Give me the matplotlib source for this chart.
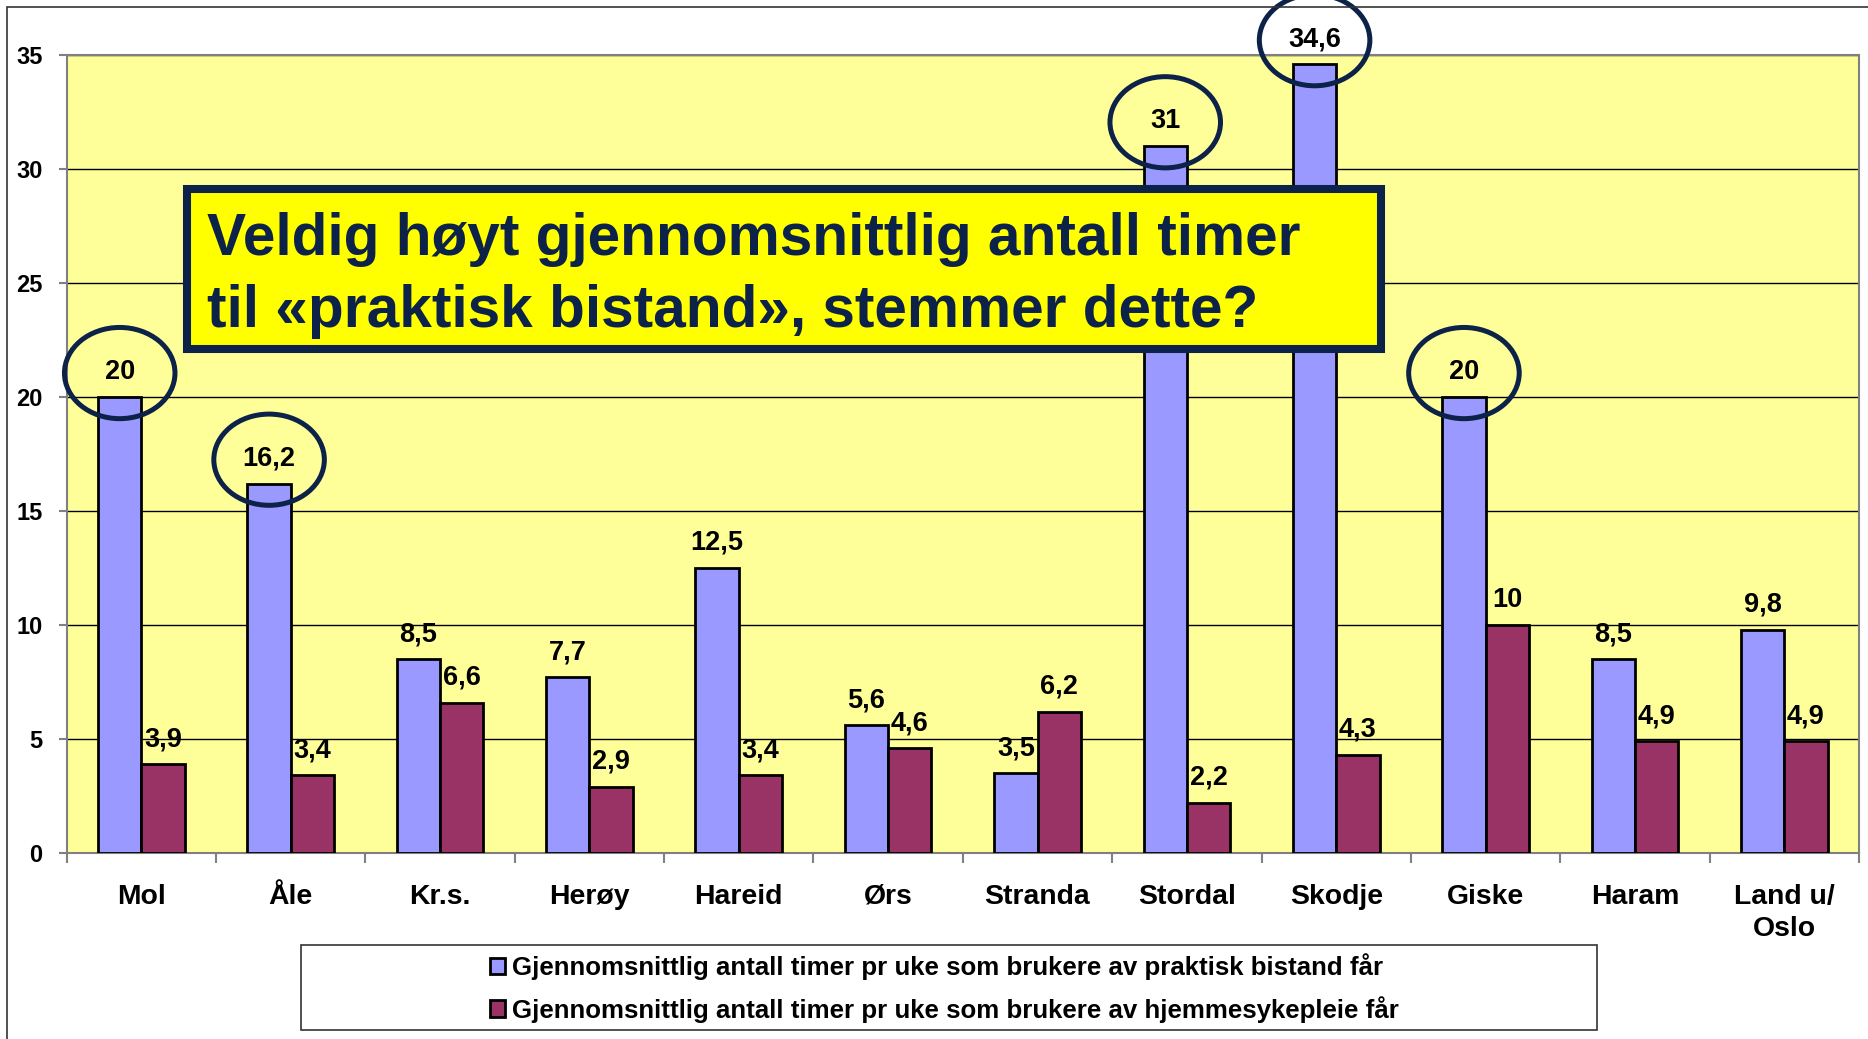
"""
Timer pr uke: praktisk bistand mot hjemmesykepleie, per kommune.
Lagrer stolpediagrammet som out.png.
"""

import matplotlib
matplotlib.use("Agg")  # ingen skjerm, bare fil
import matplotlib.pyplot as plt
from matplotlib import font_manager
from matplotlib.patches import Ellipse, Rectangle

kommuner = ["Mol", "Åle", "Kr.s.", "Herøy", "Hareid", "Ørs", "Stranda",
            "Stordal", "Skodje", "Giske", "Haram", "Land u/\nOslo"]
praktisk_bistand = [20, 16.2, 8.5, 7.7, 12.5, 5.6, 3.5, 31, 34.6, 20, 8.5, 9.8]
hjemmesykepleie = [3.9, 3.4, 6.6, 2.9, 3.4, 4.6, 6.2, 2.2, 4.3, 10, 4.9, 4.9]
markerte = ["Mol", "Åle", "Stordal", "Skodje", "Giske"]
y_ticks = [0, 5, 10, 15, 20, 25, 30, 35]

serie_navn = [
    "Gjennomsnittlig antall timer pr uke som brukere av praktisk bistand får",
    "Gjennomsnittlig antall timer pr uke som brukere av hjemmesykepleie får",
]
boks_linjer = [
    "Veldig høyt gjennomsnittlig antall timer",
    "til «praktisk bistand», stemmer dette?",
]

BLA = "#9999FF"
LILLA = "#993366"
BAKGRUNN = "#FFFF99"
MARINE = "#0C2249"
GRA = "#808080"

W, H = 1868, 1039

installerte = {f.name for f in font_manager.fontManager.ttflist}
SMAL = "Liberation Sans Narrow" if "Liberation Sans Narrow" in installerte else "Liberation Sans"
BRED = "Liberation Sans"
# vanlig bredde er bredere enn narrow, saa krymp litt hvis narrow mangler
k = 1.0 if SMAL == "Liberation Sans Narrow" else 0.93


def fx(px):
    return px / W


def fy(py):
    return 1 - py / H


def tall(v):
    return f"{v:g}".replace(".", ",")


fig = plt.figure(figsize=(W / 100, H / 100), dpi=100)
fig.patch.set_facecolor("white")

# ramme rundt hele diagramomraadet (bare venstre og topp synes)
fig.add_artist(Rectangle((fx(7), fy(1200)), 3000 / W, (1200 - 7) / H,
                         transform=fig.transFigure, fill=False,
                         edgecolor="#333333", linewidth=1.2))

ax = fig.add_axes([fx(66.7), fy(853), (1859 - 66.7) / W, (853 - 55) / H])
ax.set_facecolor(BAKGRUNN)

x = list(range(len(kommuner)))
bredde = 0.29
x_bla = [i - bredde / 2 for i in x]
x_lilla = [i + bredde / 2 for i in x]

ax.bar(x_bla, praktisk_bistand, width=bredde, color=BLA,
       edgecolor="black", linewidth=2, zorder=3, label=serie_navn[0])
ax.bar(x_lilla, hjemmesykepleie, width=bredde, color=LILLA,
       edgecolor="black", linewidth=2, zorder=3, label=serie_navn[1])

for xs, verdier in [(x_bla, praktisk_bistand), (x_lilla, hjemmesykepleie)]:
    for xi, v in zip(xs, verdier):
        ax.annotate(tall(v), (xi, v), xytext=(0, 13), textcoords="offset points",
                    ha="center", va="baseline", fontsize=21 * k, fontweight="bold",
                    family=SMAL, annotation_clip=False, zorder=5)

# ringer rundt de hoeyeste verdiene
for navn in markerte:
    i = kommuner.index(navn)
    ax.add_patch(Ellipse((x_bla[i], praktisk_bistand[i] + 1.05), 0.74, 4.0,
                         fill=False, edgecolor=MARINE, linewidth=3.6,
                         clip_on=False, zorder=6))

ax.set_xlim(-0.5, len(kommuner) - 0.5)
ax.set_ylim(0, 35)
ax.set_yticks(y_ticks)
ax.set_yticklabels([str(t) for t in y_ticks], family=SMAL, fontweight="bold", fontsize=17)
ax.set_xticks(x)
ax.set_xticklabels(kommuner, family=SMAL, fontweight="bold", fontsize=22 * k,
                   linespacing=1.3)
ax.set_xticks([i - 0.5 for i in range(len(kommuner) + 1)], minor=True)
ax.tick_params(axis="x", which="major", length=0, pad=22)
ax.tick_params(axis="x", which="minor", length=7, width=1.5, color=GRA)
ax.tick_params(axis="y", length=6, width=1.5, color=GRA, pad=11.5)

ax.yaxis.grid(True, color="black", linewidth=1)
ax.set_axisbelow(True)
for s in ax.spines.values():
    s.set_color(GRA)
    s.set_linewidth(1.5)

# tekstboks med spoersmaalet
fig.add_artist(Rectangle((fx(187), fy(349)), (1381 - 187) / W, (349 - 189) / H,
                         transform=fig.transFigure, facecolor="#FFFF00",
                         edgecolor=MARINE, linewidth=5.8, zorder=10))
for linje, y_px in zip(boks_linjer, [255, 327]):
    fig.text(fx(207), fy(y_px), linje, family=BRED, fontweight="bold",
             fontsize=42.2, color=MARINE, va="baseline", ha="left", zorder=11)

# forklaring
fig.add_artist(Rectangle((fx(301), fy(1030)), (1597 - 301) / W, (1030 - 945) / H,
                         transform=fig.transFigure, facecolor="white",
                         edgecolor="#333333", linewidth=1.2, zorder=1))
handles, labels = ax.get_legend_handles_labels()
fig.legend(handles, labels, loc="center", bbox_to_anchor=(fx(944), fy(988)),
           frameon=False, prop=dict(family=SMAL, weight="bold", size=20 * k),
           handlelength=0.6, handleheight=0.6, handletextpad=0.25,
           labelspacing=0.6, borderpad=0)

fig.savefig("out.png", dpi=100)
